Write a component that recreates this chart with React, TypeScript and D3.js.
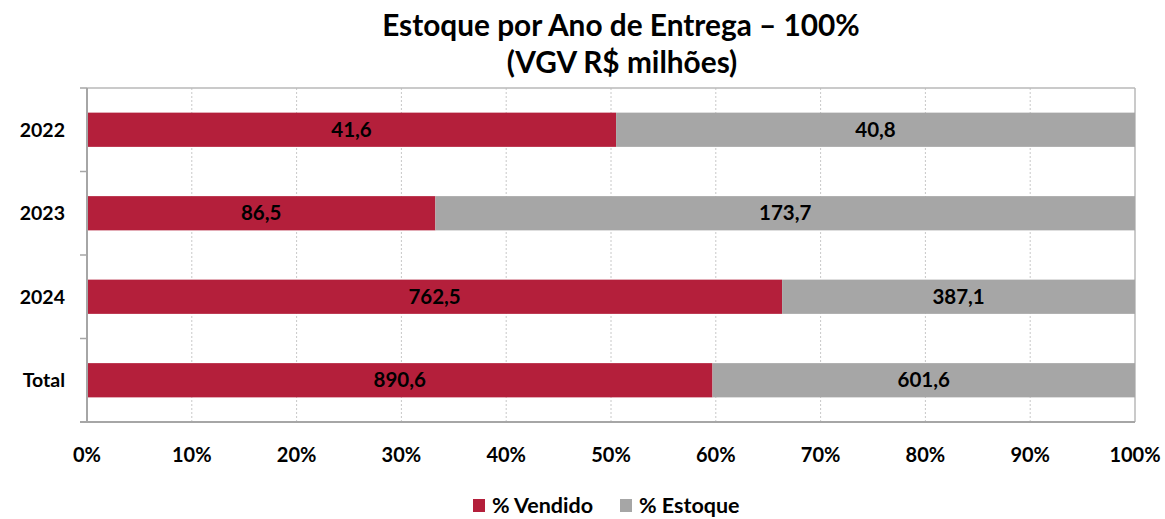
import { useMemo } from "react";
import * as d3 from "d3";

const categories = ["2022", "2023", "2024", "Total"];
const vendido = [41.6, 86.5, 762.5, 890.6];
const estoque = [40.8, 173.7, 387.1, 601.6];
const seriesNames = ["% Vendido", "% Estoque"];
const seriesColors = ["#B41F3B", "#A6A6A6"];
const xTicks = [0, 0.1, 0.2, 0.3, 0.4, 0.5, 0.6, 0.7, 0.8, 0.9, 1];

const W = 1165;
const H = 519;
const FONT = "Lato, 'Open Sans', sans-serif";

export default function App() {
  const margin = { left: 87, right: 30, top: 88, bottom: 97 };

  const x = d3.scaleLinear().domain([0, 1]).range([margin.left, W - margin.right]);
  const y = d3
    .scaleBand()
    .domain(categories)
    .range([margin.top, H - margin.bottom])
    .paddingInner(0.59)
    .paddingOuter(0.295);

  const rows = useMemo(() => {
    const table = categories.map((c, i) => ({ cat: c, v: vendido[i], e: estoque[i] }));
    const stack = d3
      .stack<any>()
      .keys(["v", "e"])
      .offset(d3.stackOffsetExpand);
    return { table, series: stack(table) };
  }, []);

  const step = y.step();
  const x0 = x(0);
  const x1 = x(1);
  const yTop = margin.top;
  const yBot = H - margin.bottom;

  return (
    <svg width={W} height={H} style={{ position: "absolute", left: 0, top: 0 }} fontFamily={FONT}>
      <rect width={W} height={H} fill="#fff" />

      <text x={621} y={36} textAnchor="middle" fontSize={29.8} fontWeight="bold">
        Estoque por Ano de Entrega – 100%
      </text>
      <text x={622} y={73} textAnchor="middle" fontSize={29.8} fontWeight="bold">
        (VGV R$ milhões)
      </text>

      {/* gridlines */}
      {xTicks.slice(1, -1).map(t => (
        <line
          key={t}
          x1={x(t)}
          x2={x(t)}
          y1={yTop}
          y2={yBot}
          stroke="#c8c8c8"
          strokeWidth={1}
          strokeDasharray="2,2"
        />
      ))}

      {/* plot border top/right */}
      <line x1={x0} x2={x1} y1={yTop} y2={yTop} stroke="#b8b8b8" strokeWidth={1.5} />
      <line x1={x1} x2={x1} y1={yTop} y2={yBot} stroke="#b8b8b8" strokeWidth={1.5} />

      {/* bars */}
      {rows.series.map((s, si) =>
        s.map((d, i) => (
          <rect
            key={`${si}-${i}`}
            x={x(d[0])}
            width={x(d[1]) - x(d[0])}
            y={y(categories[i])}
            height={y.bandwidth()}
            fill={seriesColors[si]}
          />
        ))
      )}

      {/* value labels */}
      {rows.series.map((s, si) =>
        s.map((d, i) => {
          const val = si === 0 ? vendido[i] : estoque[i];
          return (
            <text
              key={`l-${si}-${i}`}
              x={(x(d[0]) + x(d[1])) / 2}
              y={(y(categories[i]) ?? 0) + y.bandwidth() / 2}
              dy="0.35em"
              textAnchor="middle"
              fontSize={20.5}
              fontWeight="bold"
              fill="#000"
            >
              {d3.format(".1f")(val).replace(".", ",")}
            </text>
          );
        })
      )}

      {/* axes */}
      <line x1={x0} x2={x0} y1={yTop} y2={yBot} stroke="#a6a6a6" strokeWidth={2} />
      <line x1={x0 - 7} x2={x1} y1={yBot} y2={yBot} stroke="#a6a6a6" strokeWidth={2} />
      {categories.map((c, i) => (
        <line
          key={`t-${c}`}
          x1={x0 - 7}
          x2={x0}
          y1={yTop + step * i}
          y2={yTop + step * i}
          stroke="#a6a6a6"
          strokeWidth={1.5}
        />
      ))}

      {categories.map(c => (
        <text
          key={`c-${c}`}
          x={65}
          y={(y(c) ?? 0) + y.bandwidth() / 2}
          dy="0.35em"
          textAnchor="end"
          fontSize={19.5}
          fontWeight="bold"
        >
          {c}
        </text>
      ))}

      {xTicks.map(t => (
        <text
          key={`x-${t}`}
          x={x(t)}
          y={462}
          textAnchor="middle"
          fontSize={20}
          fontWeight="bold"
        >
          {d3.format(".0%")(t)}
        </text>
      ))}

      {/* legend */}
      {seriesNames.map((n, i) => {
        const lx = i === 0 ? 473 : 620;
        return (
          <g key={n}>
            <rect x={lx} y={499} width={12} height={13} fill={seriesColors[i]} />
            <text x={lx + 19} y={513} fontSize={21.5} fontWeight="bold">
              {n}
            </text>
          </g>
        );
      })}
    </svg>
  );
}
